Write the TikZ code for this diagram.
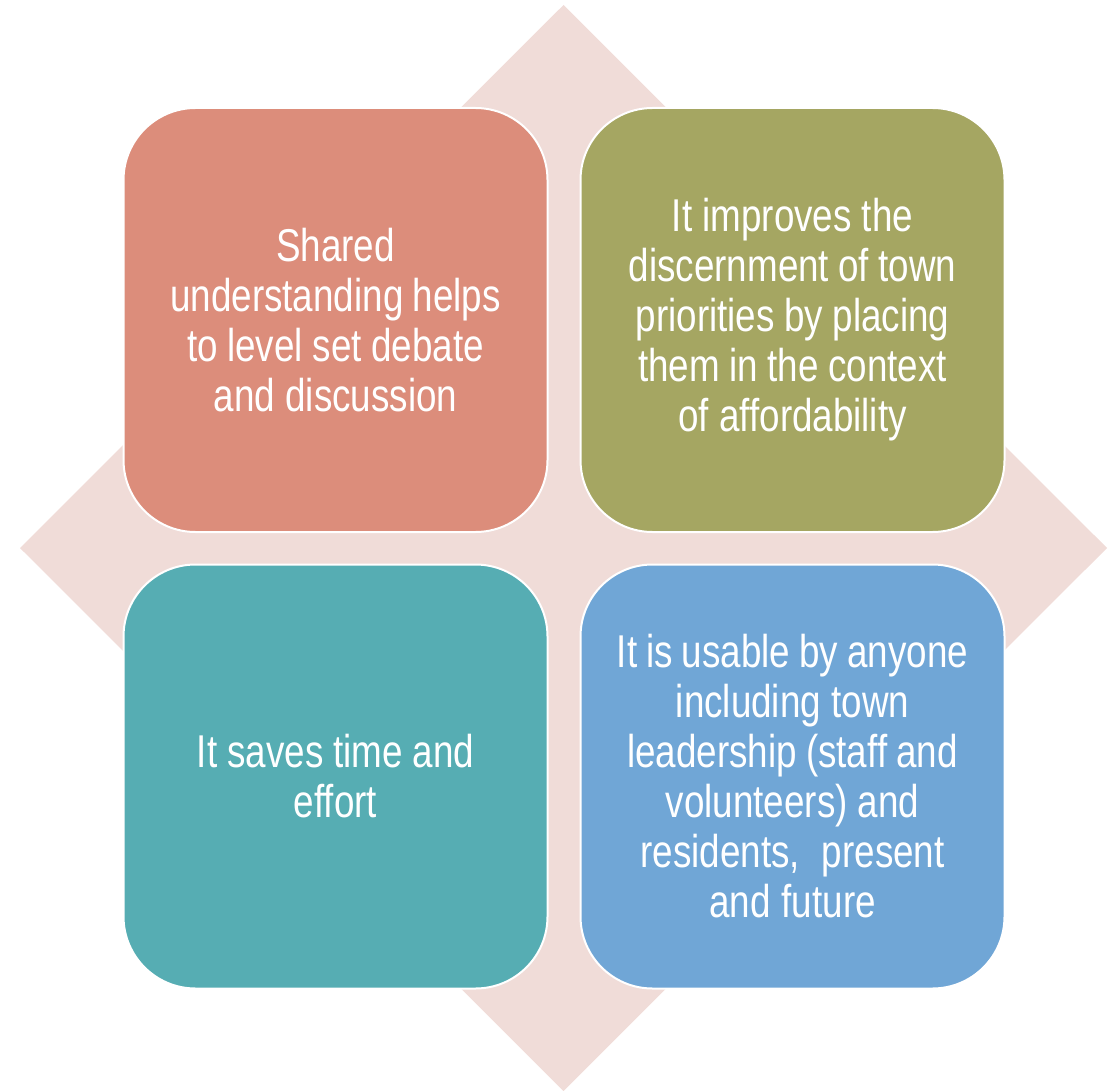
\documentclass[tikz,border=0pt]{standalone}
\usepackage{fontspec}
\setmainfont[FakeStretch=0.8]{Liberation Sans}
\definecolor{diamondpink}{HTML}{F0DCD8}
\definecolor{salmon}{HTML}{DC8D7B}
\definecolor{olive}{HTML}{A5A662}
\definecolor{teal}{HTML}{56ADB3}
\definecolor{skyblue}{HTML}{70A6D6}
% tighter word spacing for the condensed face
\newcommand{\tilespacing}{\spaceskip=8.5pt plus 2pt minus 1pt\relax}
\begin{document}
\begin{tikzpicture}[x=1pt,y=-1pt,
  tile/.style={rectangle, rounded corners=72pt, draw=white, line width=2pt,
    minimum width=424pt, minimum height=424pt, inner sep=0pt,
    text=white, align=center, text width=400pt,
    font=\fontsize{46}{50}\selectfont}]
  \useasboundingbox (0,0) rectangle (1113,1091);
  % background diamond
  \fill[diamondpink] (563.5,5) -- (1107,548) -- (563.5,1091) -- (20,548) -- cycle;
  % four tiles
  \node[tile, fill=salmon] (tl) at (335.5,320)
    {\tilespacing Shared\\understanding helps\\to level set debate\\and discussion};
  \node[tile, fill=olive] (tr) at (792.5,320)
    {\tilespacing It improves the\\discernment of town\\priorities by placing\\them in the context\\of affordability};
  \node[tile, fill=teal] (bl) at (335.5,776.5)
    {\tilespacing It saves time and\\effort};
  \node[tile, fill=skyblue] (br) at (792.5,776.5)
    {\tilespacing It is usable by anyone\\including town\\leadership (staff and\\volunteers) and\\residents,\hspace{22pt}present\\and future};
\end{tikzpicture}
\end{document}
